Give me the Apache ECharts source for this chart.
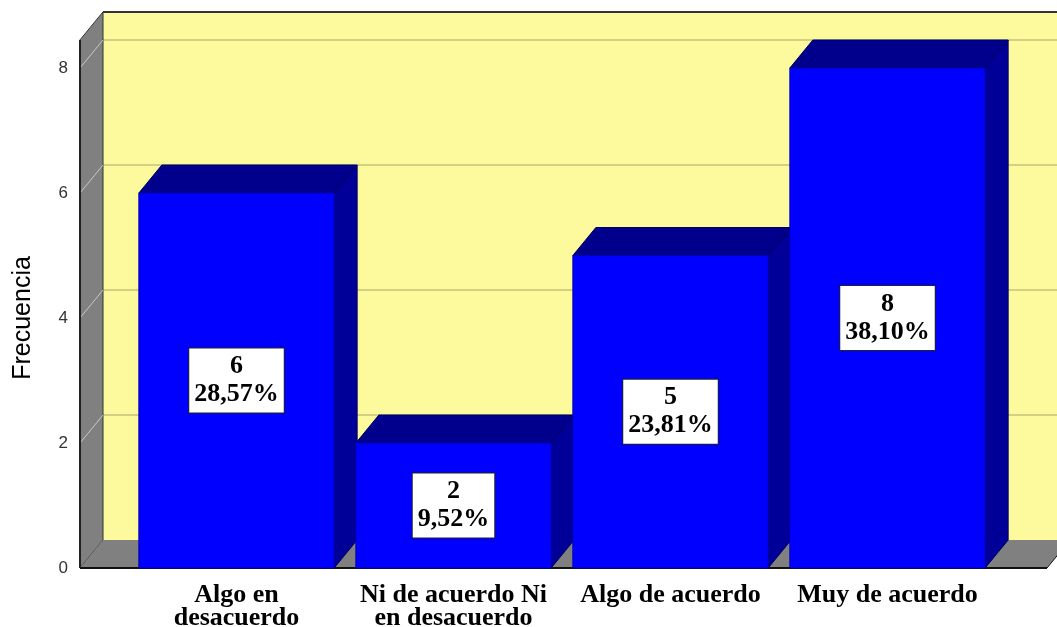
<!DOCTYPE html>
<html>
<head>
<meta charset="utf-8">
<script src="https://cdn.jsdelivr.net/npm/echarts@6/dist/echarts.min.js"></script>
<style>
  html, body { margin: 0; padding: 0; background: #fff; }
  #grafico { width: 1057px; height: 627px; }
</style>
</head>
<body>
<div id="grafico"></div>
<script>
// datos
const categorias = ["Algo en\ndesacuerdo", "Ni de acuerdo Ni\nen desacuerdo", "Algo de acuerdo", "Muy de acuerdo"];
const frecuencias = [6, 2, 5, 8];
const porcentajes = ["28,57%", "9,52%", "23,81%", "38,10%"];
const marcasEje = [0, 2, 4, 6, 8];

// profundidad del efecto 3D (px)
const dx = 23, dy = -28;
const techo = 8.45; // altura de las paredes en unidades del eje

const grafico = echarts.init(document.getElementById("grafico"));

function dibujarFondo(params, api) {
  const cs = params.coordSys;
  const y0 = api.coord([0, 0])[1];
  const yT = api.coord([0, techo])[1];
  const L = cs.x - 48;
  const R = cs.x + cs.width + 51;
  const hijos = [];

  // pared del fondo
  hijos.push({ type: "polygon", shape: { points: [[L + dx, yT + dy], [R + dx, yT + dy], [R + dx, y0 + dy], [L + dx, y0 + dy]] },
    style: { fill: "#FCFA9C" } });
  // lineas de la grilla en el fondo
  marcasEje.slice(1).forEach(v => {
    const y = api.coord([0, v])[1];
    hijos.push({ type: "line", shape: { x1: L + dx, y1: y + dy, x2: R + dx, y2: y + dy },
      style: { stroke: "#C6C27C", lineWidth: 1.5 } });
  });
  // pared izquierda
  hijos.push({ type: "polygon", shape: { points: [[L, yT], [L + dx, yT + dy], [L + dx, y0 + dy], [L, y0]] },
    style: { fill: "#808080", stroke: "#333", lineWidth: 1 } });
  marcasEje.slice(1).forEach(v => {
    const y = api.coord([0, v])[1];
    hijos.push({ type: "line", shape: { x1: L, y1: y, x2: L + dx, y2: y + dy },
      style: { stroke: "#C8C8C8", lineWidth: 1 } });
  });
  // piso
  hijos.push({ type: "polygon", shape: { points: [[L, y0], [R, y0], [R + dx, y0 + dy], [L + dx, y0 + dy]] },
    style: { fill: "#808080" } });
  // bordes
  hijos.push({ type: "line", shape: { x1: L + dx, y1: yT + dy, x2: R + dx, y2: yT + dy }, style: { stroke: "#333", lineWidth: 2 } });
  hijos.push({ type: "line", shape: { x1: L, y1: y0, x2: R, y2: y0 }, style: { stroke: "#111", lineWidth: 2 } });
  hijos.push({ type: "line", shape: { x1: R, y1: y0, x2: R + dx, y2: y0 + dy }, style: { stroke: "#111", lineWidth: 1 } });
  hijos.push({ type: "line", shape: { x1: L, y1: yT, x2: L, y2: y0 }, style: { stroke: "#222", lineWidth: 2 } });

  return { type: "group", children: hijos };
}

function dibujarBarra(params, api) {
  const i = api.value(0);
  const v = api.value(1);
  const arriba = api.coord([i, v]);
  const base = api.coord([i, 0]);
  const ancho = api.size([1, 0])[0] * 0.9;
  const x0 = arriba[0] - ancho / 2, x1 = arriba[0] + ancho / 2;
  const yt = arriba[1], yb = base[1];

  return {
    type: "group",
    children: [
      { type: "polygon", shape: { points: [[x1, yt], [x1 + dx, yt + dy], [x1 + dx, yb + dy], [x1, yb]] },
        style: { fill: "#000099", stroke: "#000060", lineWidth: 1 } },
      { type: "polygon", shape: { points: [[x0, yt], [x1, yt], [x1 + dx, yt + dy], [x0 + dx, yt + dy]] },
        style: { fill: "#00008C", stroke: "#000060", lineWidth: 1 } },
      { type: "rect", shape: { x: x0, y: yt, width: ancho, height: yb - yt },
        style: { fill: "#0000FF", stroke: "#0000B0", lineWidth: 1 } },
      { type: "text", x: arriba[0], y: (yt + yb) / 2,
        style: {
          text: frecuencias[params.dataIndex] + "\n" + porcentajes[params.dataIndex],
          align: "center", verticalAlign: "middle",
          fontFamily: "Liberation Serif", fontWeight: "bold", fontSize: 26, lineHeight: 28,
          fill: "#000", backgroundColor: "#fff", borderColor: "#222", borderWidth: 1, padding: [4, 5]
        } }
    ]
  };
}

const opciones = {
  animation: false,
  backgroundColor: "#fff",
  grid: { left: 128, right: 61, top: 68, bottom: 59, outerBoundsMode: "none", containLabel: false },
  xAxis: {
    type: "category",
    data: categorias,
    axisLine: { show: false },
    axisTick: { show: false },
    axisLabel: {
      interval: 0,
      margin: 16, color: "#000", fontFamily: "Liberation Serif", fontWeight: "bold",
      fontSize: 26, lineHeight: 23
    }
  },
  yAxis: {
    type: "value",
    min: 0, max: 8, interval: 2,
    offset: 48,
    name: "Frecuencia",
    nameLocation: "middle",
    nameGap: 44,
    nameRotate: 90,
    nameTextStyle: { fontFamily: "Liberation Sans", fontSize: 25, color: "#000" },
    axisLine: { show: false },
    axisTick: { show: false },
    splitLine: { show: false },
    axisLabel: { margin: 12, color: "#333", fontFamily: "Liberation Sans", fontSize: 17 }
  },
  series: [
    { type: "custom", z: 1, silent: true, data: [[0, 0]], renderItem: dibujarFondo },
    { type: "custom", z: 2, data: frecuencias.map((v, i) => [i, v]), encode: { x: 0, y: 1 }, renderItem: dibujarBarra }
  ]
};

grafico.setOption(opciones);
</script>
</body>
</html>
